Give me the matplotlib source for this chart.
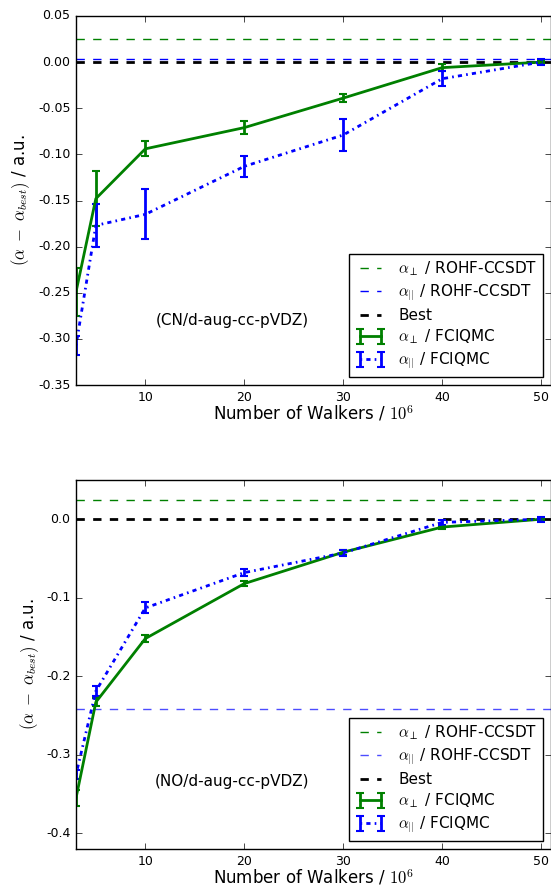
import matplotlib
matplotlib.use("Agg")
import matplotlib.pyplot as plt

## data
walkers = [3, 5, 10, 20, 30, 40, 50]

# CN / d-aug-cc-pVDZ
cn_perp = [-0.249, -0.148, -0.094, -0.071, -0.039, -0.006, 0.0]
cn_perp_err = [0.026, 0.030, 0.008, 0.007, 0.004, 0.004, 0.001]
cn_par = [-0.307, -0.177, -0.165, -0.113, -0.079, -0.018, 0.0]
cn_par_err = [0.010, 0.023, 0.027, 0.011, 0.017, 0.008, 0.0035]
cn_ccsdt_perp = 0.025
cn_ccsdt_par = 0.003

# NO / d-aug-cc-pVDZ
no_perp = [-0.355, -0.233, -0.152, -0.082, -0.042, -0.010, 0.0]
no_perp_err = [0.010, 0.005, 0.004, 0.003, 0.003, 0.002, 0.001]
no_par = [-0.325, -0.219, -0.113, -0.068, -0.043, -0.004, 0.0]
no_par_err = [0.006, 0.006, 0.007, 0.004, 0.004, 0.003, 0.003]
no_ccsdt_perp = 0.024
no_ccsdt_par = -0.242

plt.style.use("classic")
plt.rcParams["mathtext.fontset"] = "cm"
plt.rcParams["font.family"] = ["DejaVu Sans"]

fig = plt.figure(figsize=(5.51, 8.88), dpi=100, facecolor="white")
ax1 = fig.add_axes([0.138, 0.5664, 0.862, 0.4156])
ax2 = fig.add_axes([0.138, 0.0439, 0.862, 0.4156])


def panel(ax, perp, perp_err, par, par_err, ref_perp, ref_par, par_alpha, title, ylim, yticks, fmt, ty):
    ax.axhline(ref_perp, color="g", ls="--", lw=1, label=r"$\alpha_\perp$ / ROHF-CCSDT")
    ax.axhline(ref_par, color="b", ls="--", lw=1, alpha=par_alpha, label=r"$\alpha_{||}$ / ROHF-CCSDT")
    ax.axhline(0.0, color="k", ls="--", lw=2, label="Best")
    ax.errorbar(walkers, perp, yerr=perp_err, color="g", lw=2, elinewidth=2,
                capsize=3, capthick=1.5, label=r"$\alpha_\perp$ / FCIQMC")
    eb = ax.errorbar(walkers, par, yerr=par_err, color="b", lw=2, elinewidth=2,
                     capsize=3, capthick=1.5, label=r"$\alpha_{||}$ / FCIQMC")
    eb[0].set_dashes([1.2, 3, 3, 3])
    ax.set_xlim(3, 51)
    ax.set_ylim(*ylim)
    ax.set_xticks([10, 20, 30, 40, 50])
    ax.set_yticks(yticks)
    ax.set_yticklabels([fmt % v for v in yticks])
    ax.tick_params(labelsize=9, direction="in", length=4)
    ax.set_xlabel(r"Number of Walkers / $10^6$", fontsize=12, labelpad=0)
    ax.set_ylabel(r"$(\alpha\ -\ \alpha_{best})$ / a.u.", fontsize=12, labelpad=4)
    ax.text(18.8, ty, title, fontsize=11, ha="center", va="center")
    leg = ax.legend(loc="lower right", fontsize=11, numpoints=2, handlelength=2.0,
                    borderaxespad=0.5, labelspacing=0.3)
    leg.get_frame().set_linewidth(1)


panel(ax1, cn_perp, cn_perp_err, cn_par, cn_par_err, cn_ccsdt_perp, cn_ccsdt_par, 1.0,
      "(CN/d-aug-cc-pVDZ)", (-0.35, 0.05),
      [-0.35, -0.30, -0.25, -0.20, -0.15, -0.10, -0.05, 0.00, 0.05], "%.2f", -0.28)
panel(ax2, no_perp, no_perp_err, no_par, no_par_err, no_ccsdt_perp, no_ccsdt_par, 0.7,
      "(NO/d-aug-cc-pVDZ)", (-0.42, 0.05),
      [-0.4, -0.3, -0.2, -0.1, 0.0], "%.1f", -0.334)

fig.savefig("out.png", dpi=100, facecolor="white")
